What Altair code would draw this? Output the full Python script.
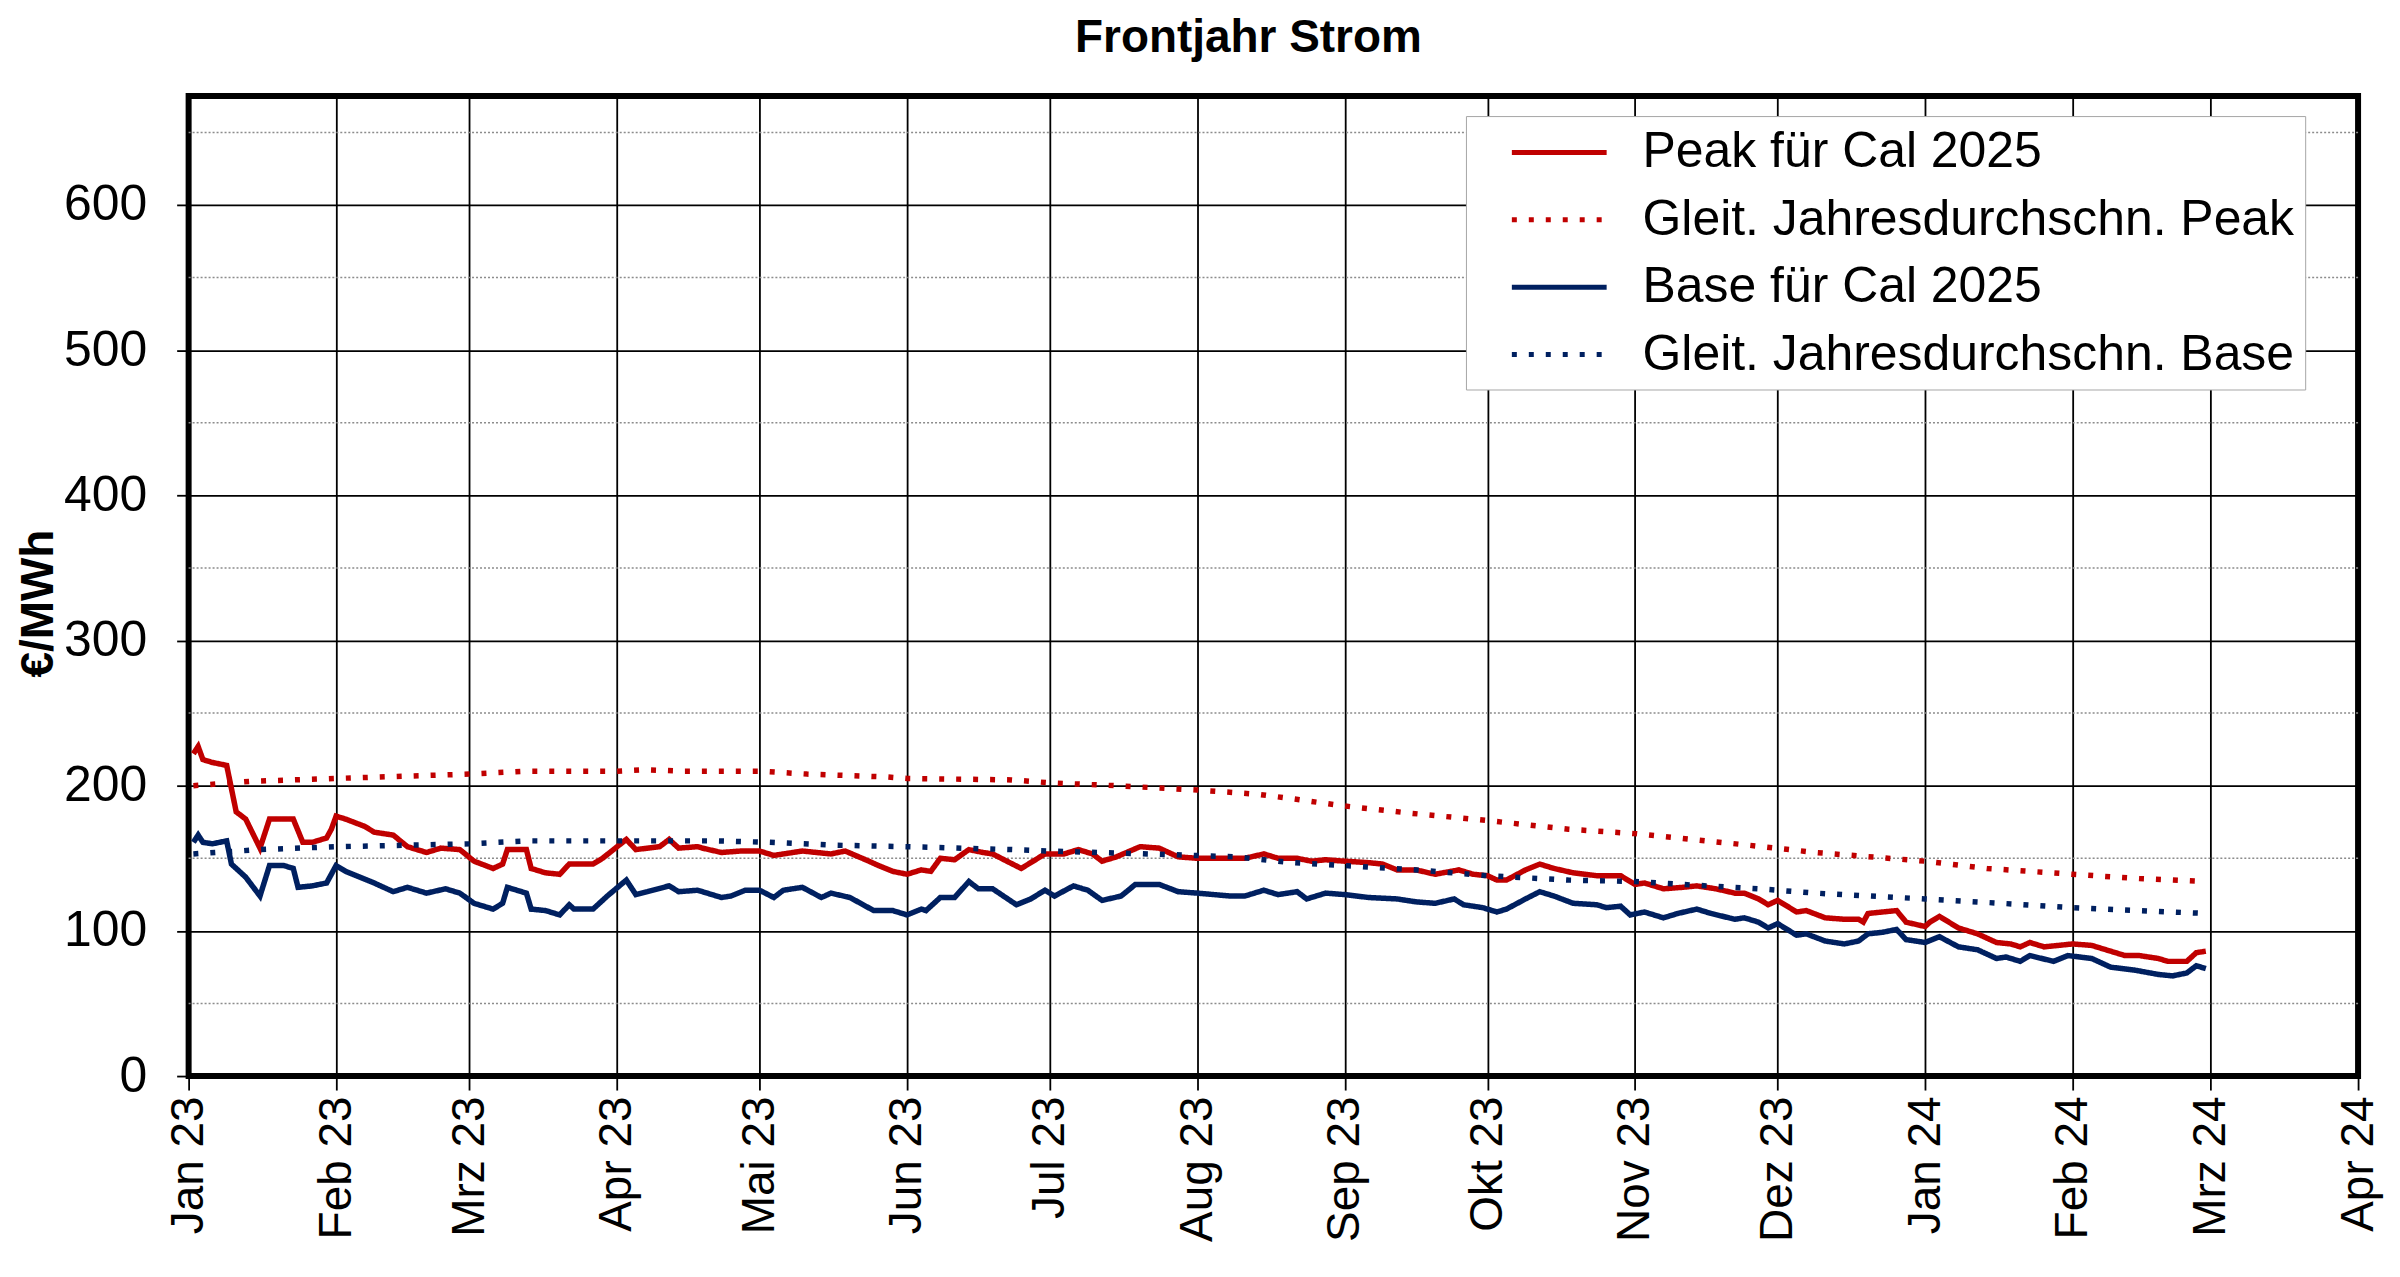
import altair as alt
import pandas as pd

# ---------------- data ----------------
peak_dates = [
    "2023-01-02", "2023-01-03", "2023-01-04", "2023-01-06", "2023-01-09", "2023-01-11", "2023-01-13",
    "2023-01-16", "2023-01-18", "2023-01-20", "2023-01-23", "2023-01-25", "2023-01-27", "2023-01-30",
    "2023-01-31", "2023-02-01", "2023-02-03", "2023-02-07", "2023-02-09", "2023-02-13", "2023-02-16",
    "2023-02-20", "2023-02-23", "2023-02-27", "2023-03-02", "2023-03-06", "2023-03-08", "2023-03-09",
    "2023-03-13", "2023-03-14", "2023-03-17", "2023-03-20", "2023-03-22", "2023-03-27", "2023-03-29",
    "2023-04-03", "2023-04-05", "2023-04-10", "2023-04-12", "2023-04-14", "2023-04-18", "2023-04-19",
    "2023-04-23", "2023-04-27", "2023-05-01", "2023-05-04", "2023-05-10", "2023-05-16", "2023-05-19",
    "2023-05-24", "2023-05-26", "2023-05-29", "2023-06-01", "2023-06-04", "2023-06-06", "2023-06-08",
    "2023-06-11", "2023-06-14", "2023-06-17", "2023-06-19", "2023-06-22", "2023-06-25", "2023-06-27",
    "2023-06-30", "2023-07-04", "2023-07-07", "2023-07-10", "2023-07-12", "2023-07-15", "2023-07-20",
    "2023-07-24", "2023-07-28", "2023-08-01", "2023-08-07", "2023-08-11", "2023-08-15", "2023-08-18",
    "2023-08-22", "2023-08-25", "2023-08-28", "2023-09-01", "2023-09-06", "2023-09-09", "2023-09-12",
    "2023-09-16", "2023-09-20", "2023-09-25", "2023-09-28", "2023-10-01", "2023-10-03", "2023-10-05",
    "2023-10-09", "2023-10-12", "2023-10-15", "2023-10-19", "2023-10-24", "2023-10-29", "2023-11-01",
    "2023-11-03", "2023-11-07", "2023-11-11", "2023-11-14", "2023-11-18", "2023-11-22", "2023-11-24",
    "2023-11-27", "2023-11-29", "2023-12-01", "2023-12-02", "2023-12-05", "2023-12-07", "2023-12-11",
    "2023-12-15", "2023-12-18", "2023-12-19", "2023-12-20", "2023-12-23", "2023-12-26", "2023-12-28",
    "2024-01-01", "2024-01-02", "2024-01-04", "2024-01-08", "2024-01-12", "2024-01-16", "2024-01-19",
    "2024-01-21", "2024-01-23", "2024-01-26", "2024-01-29", "2024-02-01", "2024-02-05", "2024-02-09",
    "2024-02-12", "2024-02-15", "2024-02-19", "2024-02-21", "2024-02-25", "2024-02-27", "2024-02-29",
]
peak_values = [
    222, 227, 218, 216, 214, 182, 177,
    157, 177, 177, 177, 161, 161, 164,
    170, 179, 177, 172, 168, 166, 158,
    154, 157, 156, 148, 143, 146, 156,
    156, 143, 140, 139, 146, 146, 150,
    163, 156, 158, 163, 157, 158, 157,
    154, 155, 155, 152, 155, 153, 155,
    148, 145, 141, 139, 142, 141, 150,
    149, 156, 154, 153, 148, 143, 147,
    153, 153, 156, 153, 148, 151, 158,
    157, 151, 150, 150, 150, 153, 150,
    150, 148, 149, 148, 147, 146, 142,
    142, 139, 142, 139, 138, 135, 135,
    142, 146, 143, 140, 138, 138, 132,
    133, 129, 130, 131, 129, 126, 126,
    122, 118, 121, 119, 113, 114, 109,
    108, 108, 106, 112, 113, 114, 106,
    103, 106, 110, 102, 98, 92, 91,
    89, 92, 89, 90, 91, 90, 86,
    83, 83, 81, 79, 79, 85, 86,
]

base_dates = [
    "2023-01-02", "2023-01-03", "2023-01-04", "2023-01-06", "2023-01-09", "2023-01-10", "2023-01-13",
    "2023-01-16", "2023-01-18", "2023-01-21", "2023-01-23", "2023-01-24", "2023-01-27", "2023-01-30",
    "2023-02-01", "2023-02-03", "2023-02-09", "2023-02-13", "2023-02-16", "2023-02-20", "2023-02-24",
    "2023-02-27", "2023-03-02", "2023-03-06", "2023-03-08", "2023-03-09", "2023-03-13", "2023-03-14",
    "2023-03-17", "2023-03-20", "2023-03-22", "2023-03-23", "2023-03-27", "2023-03-30", "2023-04-03",
    "2023-04-05", "2023-04-12", "2023-04-14", "2023-04-18", "2023-04-19", "2023-04-23", "2023-04-25",
    "2023-04-28", "2023-05-01", "2023-05-04", "2023-05-06", "2023-05-10", "2023-05-14", "2023-05-16",
    "2023-05-20", "2023-05-25", "2023-05-29", "2023-06-01", "2023-06-04", "2023-06-05", "2023-06-08",
    "2023-06-11", "2023-06-14", "2023-06-16", "2023-06-19", "2023-06-24", "2023-06-27", "2023-06-30",
    "2023-07-02", "2023-07-06", "2023-07-09", "2023-07-12", "2023-07-16", "2023-07-19", "2023-07-24",
    "2023-07-28", "2023-08-01", "2023-08-08", "2023-08-11", "2023-08-15", "2023-08-18", "2023-08-22",
    "2023-08-24", "2023-08-28", "2023-09-01", "2023-09-06", "2023-09-12", "2023-09-16", "2023-09-20",
    "2023-09-24", "2023-09-26", "2023-09-30", "2023-10-03", "2023-10-05", "2023-10-09", "2023-10-12",
    "2023-10-15", "2023-10-19", "2023-10-24", "2023-10-26", "2023-10-29", "2023-10-31", "2023-11-03",
    "2023-11-07", "2023-11-10", "2023-11-14", "2023-11-17", "2023-11-22", "2023-11-24", "2023-11-27",
    "2023-11-29", "2023-12-01", "2023-12-02", "2023-12-05", "2023-12-07", "2023-12-11", "2023-12-15",
    "2023-12-18", "2023-12-20", "2023-12-23", "2023-12-26", "2023-12-28", "2024-01-01", "2024-01-04",
    "2024-01-08", "2024-01-12", "2024-01-16", "2024-01-18", "2024-01-21", "2024-01-23", "2024-01-28",
    "2024-01-31", "2024-02-05", "2024-02-09", "2024-02-14", "2024-02-19", "2024-02-22", "2024-02-25",
    "2024-02-27", "2024-02-29",
]
base_values = [
    161, 166, 161, 160, 162, 146, 137,
    124, 145, 145, 143, 130, 131, 133,
    145, 141, 133, 127, 130, 126, 129,
    126, 119, 115, 119, 130, 126, 115,
    114, 111, 118, 115, 115, 124, 135,
    125, 131, 127, 128, 127, 123, 124,
    128, 128, 123, 128, 130, 123, 126,
    123, 114, 114, 111, 115, 114, 123,
    123, 134, 129, 129, 118, 122, 128,
    124, 131, 128, 121, 124, 132, 132,
    127, 126, 124, 124, 128, 125, 127,
    122, 126, 125, 123, 122, 120, 119,
    122, 118, 116, 113, 115, 122, 127,
    124, 119, 118, 116, 117, 111, 113,
    109, 112, 115, 112, 108, 109, 106,
    102, 105, 103, 97, 98, 93, 91,
    93, 98, 99, 101, 94, 92, 96,
    89, 87, 81, 82, 79, 83, 79,
    83, 81, 75, 73, 70, 69, 71,
    76, 74,
]

peak_avg_dates = [
    "2023-01-02", "2023-01-14", "2023-02-01", "2023-03-01", "2023-03-13", "2023-04-01", "2023-04-07",
    "2023-04-15", "2023-05-01", "2023-05-11", "2023-05-28", "2023-06-01", "2023-06-23", "2023-07-01",
    "2023-07-15", "2023-08-01", "2023-08-10", "2023-08-14", "2023-08-21", "2023-09-01", "2023-09-15",
    "2023-10-01", "2023-10-18", "2023-11-01", "2023-11-16", "2023-11-25", "2023-12-09", "2024-01-01",
    "2024-01-14", "2024-02-01", "2024-02-15", "2024-02-29",
]
peak_avg_values = [
    200, 203, 205, 208, 210, 210, 211,
    210, 210, 208, 206, 205, 204, 202,
    200, 197, 195, 194, 191, 186, 181,
    176, 170, 167, 162, 159, 154, 148,
    143, 139, 136, 134,
]

base_avg_dates = [
    "2023-01-02", "2023-01-16", "2023-02-01", "2023-02-16", "2023-03-01", "2023-03-13", "2023-04-01",
    "2023-04-22", "2023-05-03", "2023-05-17", "2023-06-01", "2023-06-23", "2023-07-01", "2023-07-22",
    "2023-08-09", "2023-08-21", "2023-09-01", "2023-09-16", "2023-10-01", "2023-10-18", "2023-11-01",
    "2023-11-16", "2023-11-27", "2023-12-09", "2024-01-01", "2024-01-17", "2024-02-01", "2024-02-15",
    "2024-02-29",
]
base_avg_values = [
    153, 156, 158, 159, 160, 162, 162,
    162, 161, 159, 158, 156, 155, 153,
    151, 147, 145, 142, 138, 135, 134,
    131, 129, 126, 122, 119, 116, 114,
    112,
]

series_names = [
    "Peak für Cal 2025",
    "Gleit. Jahresdurchschn. Peak",
    "Base für Cal 2025",
    "Gleit. Jahresdurchschn. Base",
]
series_colors = ["#C00000", "#C00000", "#002060", "#002060"]
series_dash = [[1, 0], [5, 12], [1, 0], [5, 12]]

y_ticks = [0, 100, 200, 300, 400, 500, 600]
y_minor = [50, 150, 250, 350, 450, 550, 650]
month_labels = ["Jan", "Feb", "Mrz", "Apr", "Mai", "Jun", "Jul", "Aug", "Sep", "Okt", "Nov", "Dez"]

# ---------------- build tables ----------------
frames = []
for name, d, v in [
    (series_names[0], peak_dates, peak_values),
    (series_names[1], peak_avg_dates, peak_avg_values),
    (series_names[2], base_dates, base_values),
    (series_names[3], base_avg_dates, base_avg_values),
]:
    frames.append(pd.DataFrame({"date": d, "value": v, "series": name}))
df = pd.concat(frames, ignore_index=True)
minor_df = pd.DataFrame({"y": y_minor})

x_ticks = []
for yr, mo in [(2023, m) for m in range(1, 13)] + [(2024, m) for m in range(1, 5)]:
    x_ticks.append(alt.DateTime(year=yr, month=mo, date=1, utc=True))

month_arr = "[" + ",".join("'" + m + "'" for m in month_labels) + "]"
label_expr = month_arr + "[utcmonth(datum.value)] + ' ' + utcFormat(datum.value, '%y')"

FONT = "Liberation Sans"

x_enc = alt.X(
    "date:T",
    scale=alt.Scale(
        type="utc",
        domain=[alt.DateTime(year=2023, month=1, date=1, utc=True),
                alt.DateTime(year=2024, month=4, date=1, utc=True)],
    ),
    axis=alt.Axis(
        values=x_ticks,
        labelExpr=label_expr,
        labelAngle=-90,
        labelFontSize=46,
        labelFont=FONT,
        labelColor="black",
        labelPadding=6,
        title=None,
        grid=True,
        gridColor="black",
        gridWidth=1.8,
        domain=False,
        ticks=True,
        tickColor="black",
        tickWidth=1.8,
        tickSize=14,
    ),
)

y_scale = alt.Scale(domain=[0, 675], nice=False)

legend = alt.Legend(
    orient="none",
    legendX=1280,
    legendY=20,
    title=None,
    strokeColor="#a6a6a6",
    fillColor="white",
    padding=10,
    labelFont=FONT,
    labelFontSize=50,
    labelColor="black",
    labelLimit=1200,
    symbolType="M-2,0H2",
    symbolSize=2256,
    symbolStrokeWidth=5,
    symbolOffset=57,
    labelOffset=57,
    rowPadding=15.5,
)

minor = alt.Chart(minor_df).mark_rule(color="#8c8c8c", strokeWidth=1.5, strokeDash=[2, 2]).encode(
    y=alt.Y("y:Q", scale=y_scale)
)

lines = alt.Chart(df).mark_line(strokeWidth=5.5).encode(
    x=x_enc,
    y=alt.Y(
        "value:Q",
        scale=y_scale,
        axis=alt.Axis(
            values=y_ticks,
            labelFontSize=50,
            labelFont=FONT,
            labelColor="black",
            labelPadding=30,
            grid=True,
            gridColor="black",
            gridWidth=1.8,
            domain=False,
            ticks=True,
            tickColor="black",
            tickWidth=1.8,
            tickSize=12,
            title="€/MWh",
            titleFont=FONT,
            titleFontSize=46,
            titleFontWeight="bold",
            titleColor="black",
            titleAngle=-90,
            titleX=-150,
            titleY=508,
            titleAlign="center",
            titleBaseline="middle",
        ),
    ),
    color=alt.Color(
        "series:N",
        scale=alt.Scale(domain=series_names, range=series_colors),
        sort=series_names,
        legend=legend,
    ),
    strokeDash=alt.StrokeDash(
        "series:N",
        scale=alt.Scale(domain=series_names, range=series_dash),
        sort=series_names,
        legend=legend,
    ),
    order=alt.Order("date:T"),
)

chart = (
    alt.layer(minor, lines)
    .properties(
        width=2174,
        height=982,
        autosize=alt.AutoSizeParams(type="none"),
        padding={"left": 181, "top": 87, "right": 34, "bottom": 170},
        background="white",
        title=alt.Title(
            "Frontjahr Strom",
            font=FONT,
            fontSize=46,
            fontWeight="bold",
            color="black",
            anchor="middle",
            frame="group",
            dx=-25,
            offset=34,
        ),
    )
    .configure_view(stroke="black", strokeWidth=6)
)

chart.save("out.html", embed_options={"renderer": "svg", "actions": False})
